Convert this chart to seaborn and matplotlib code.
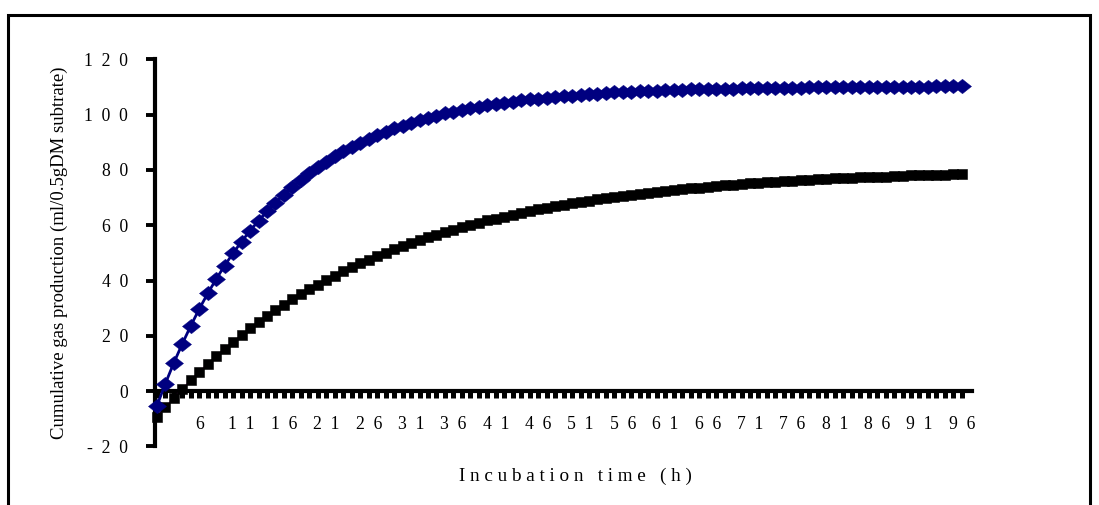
import matplotlib
matplotlib.use("Agg")
import matplotlib.pyplot as plt
import numpy as np
import pandas as pd
import seaborn as sns
from matplotlib.patches import Rectangle

# ---- data ----
hours = list(range(1, 97))
gas_blue = [-5.4, 2.7, 10.2, 17.1, 23.6, 29.7, 35.3, 40.5, 45.4, 49.9,
            54.1, 58.0, 61.6, 65.0, 68.2, 71.1, 73.9, 76.4, 78.8, 81.0,
            83.0, 84.9, 86.7, 88.3, 89.8, 91.3, 92.6, 93.8, 95.0, 96.0,
            97.0, 98.0, 98.8, 99.6, 100.4, 101.0, 101.7, 102.3, 102.8, 103.4,
            103.9, 104.3, 104.7, 105.1, 105.5, 105.8, 106.1, 106.4, 106.7, 106.9,
            107.2, 107.4, 107.6, 107.8, 108.0, 108.1, 108.3, 108.4, 108.5, 108.7,
            108.8, 108.9, 109.0, 109.1, 109.2, 109.2, 109.3, 109.4, 109.4, 109.5,
            109.6, 109.6, 109.7, 109.7, 109.7, 109.8, 109.8, 109.9, 109.9, 109.9,
            109.9, 110.0, 110.0, 110.0, 110.0, 110.1, 110.1, 110.1, 110.1, 110.1,
            110.1, 110.1, 110.2, 110.2, 110.2, 110.2]
gas_black = [-9.4, -5.9, -2.5, 0.8, 3.9, 6.9, 9.8, 12.6, 15.3, 17.8,
             20.3, 22.7, 24.9, 27.1, 29.2, 31.2, 33.2, 35.0, 36.8, 38.5,
             40.2, 41.8, 43.3, 44.8, 46.2, 47.5, 48.8, 50.1, 51.3, 52.4,
             53.5, 54.6, 55.6, 56.6, 57.5, 58.4, 59.3, 60.1, 60.9, 61.7,
             62.4, 63.1, 63.8, 64.5, 65.1, 65.7, 66.3, 66.9, 67.4, 67.9,
             68.4, 68.9, 69.3, 69.8, 70.2, 70.6, 71.0, 71.4, 71.7, 72.1,
             72.4, 72.7, 73.0, 73.3, 73.6, 73.9, 74.1, 74.4, 74.6, 74.9,
             75.1, 75.3, 75.5, 75.7, 75.9, 76.1, 76.2, 76.4, 76.6, 76.7,
             76.9, 77.0, 77.2, 77.3, 77.4, 77.5, 77.6, 77.8, 77.9, 78.0,
             78.1, 78.2, 78.3, 78.3, 78.4, 78.5]
y_ticks = [-20, 0, 20, 40, 60, 80, 100, 120]
x_label_every = 5
y_title = "Cumulative gas production (ml/0.5gDM subtrate)"
x_title = "I n c u b a t i o n   t i m e   ( h )"

sns.set_theme(style="white")
plt.rcParams["font.family"] = ["Liberation Serif", "DejaVu Sans"]

W, H = 1099, 505
fig = plt.figure(figsize=(W / 100, H / 100), dpi=100)
fig.patch.set_facecolor("white")
ax_l, ax_r, ax_t, ax_b = 155, 972, 59.3, 446.4
ax = fig.add_axes([ax_l / W, 1 - ax_b / H, (ax_r - ax_l) / W, (ax_b - ax_t) / H])
ax.set_facecolor("white")

# wide diamond marker (Excel style)
wide_diamond = [(-1.25, 0), (0, 1), (1.25, 0), (0, -1), (-1.25, 0)]

df = pd.DataFrame({"time": hours, "blue": gas_blue, "black": gas_black})
sns.lineplot(data=df, x="time", y="black", ax=ax, color="#FF00FF", lw=1.0,
             marker="s", markersize=7.0, markerfacecolor="black",
             markeredgecolor="black", markeredgewidth=0.4, zorder=3, clip_on=False)
sns.lineplot(data=df, x="time", y="blue", ax=ax, color="#000080", lw=2.0,
             marker=wide_diamond, markersize=13, markerfacecolor="#000080",
             markeredgecolor="#000080", markeredgewidth=0.3, zorder=4, clip_on=False)

ax.set_xlim(0.78, 97.2)
ax.set_ylim(-20, 120)
ax.set_yticks(y_ticks)
ax.set_yticklabels(["  ".join(str(v)) for v in y_ticks])
ax.set_xticks(hours)
ax.set_xticklabels(["  ".join(str(h)) if (h - 1) % x_label_every == 0 and h > 1 else ""
                    for h in hours])

for s in ["top", "right"]:
    ax.spines[s].set_visible(False)
ax.spines["left"].set_linewidth(3.0)
ax.spines["left"].set_color("black")
ax.spines["bottom"].set_position(("data", 0))
ax.spines["bottom"].set_linewidth(3.0)
ax.spines["bottom"].set_color("black")
ax.spines["bottom"].set_zorder(2)

ax.tick_params(axis="x", direction="out", length=5, width=3.6, pad=13,
               labelsize=12.7, colors="black", bottom=True)
ax.tick_params(axis="y", direction="out", length=6.5, width=2.8, pad=13,
               labelsize=12.7, colors="black", left=True)
ax.set_xlabel("")
ax.set_ylabel("")
ax.grid(False)

fig.text(59 / W, 1 - 253 / H, y_title, rotation=90, ha="center", va="center",
         fontsize=13.5, color="black")
fig.text(575 / W, 1 - 476 / H, x_title, ha="center", va="center",
         fontsize=13.8, color="black")

fig.add_artist(Rectangle((8 / W, -0.1), (1090 - 8) / W, 1.1 - 15 / H,
                         transform=fig.transFigure, fill=False, lw=2.2,
                         edgecolor="black"))

fig.savefig("out.png", dpi=100, facecolor="white")
